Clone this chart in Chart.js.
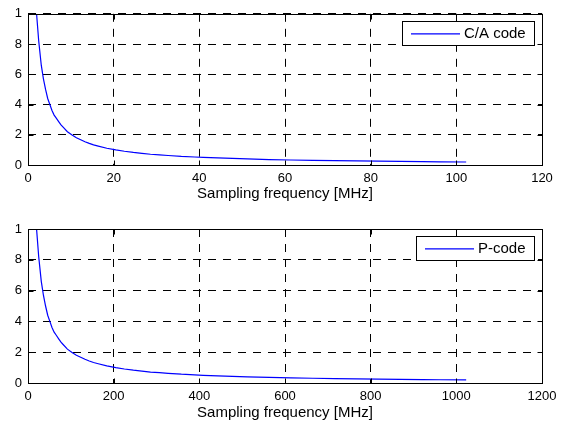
<!DOCTYPE html>
<html>
<head>
<meta charset="utf-8">
<script src="https://cdn.jsdelivr.net/npm/chart.js@4"></script>
<style>
  html, body { margin: 0; padding: 0; background: #fff; }
  .plot { position: absolute; left: 0; width: 565px; height: 212px; }
</style>
</head>
<body>
<div class="plot" style="top:0"><canvas id="caChart" width="565" height="212"></canvas></div>
<div class="plot" style="top:212px"><canvas id="pChart" width="565" height="212"></canvas></div>
<script>
// C/A code, sampling frequency in MHz vs value
const caFreq = [2.0, 2.5, 3.1, 3.6, 4.1, 4.6, 5.1, 5.6, 6.1, 6.6, 7.2, 7.7, 8.2, 9.2, 10.2, 11.3, 12.3, 13.3, 14.3, 15.3, 16.4, 18.4, 20.5, 22.5, 24.6, 26.6, 28.6, 30.7, 32.7, 35.8, 38.9, 40.9, 46.0, 51.2, 56.3, 61.4, 66.5, 71.6, 76.7, 81.8, 86.9, 92.1, 96.2, 102.3];
const caValue = [10.0, 8.2, 6.6, 5.7, 5.0, 4.4, 4.0, 3.6, 3.3, 3.1, 2.85, 2.65, 2.5, 2.2, 2.0, 1.8, 1.67, 1.54, 1.43, 1.33, 1.25, 1.11, 1.0, 0.91, 0.83, 0.77, 0.71, 0.67, 0.63, 0.57, 0.53, 0.5, 0.45, 0.4, 0.36, 0.33, 0.31, 0.29, 0.27, 0.25, 0.24, 0.22, 0.21, 0.2];

// P-code
const pFreq = [20, 25, 31, 36, 41, 46, 51, 56, 61, 66, 72, 77, 82, 92, 102, 113, 123, 133, 143, 153, 164, 184, 205, 225, 246, 266, 286, 307, 327, 358, 389, 409, 460, 512, 563, 614, 665, 716, 767, 818, 869, 921, 962, 1023];
const pValue = [10.0, 8.2, 6.6, 5.7, 5.0, 4.4, 4.0, 3.6, 3.3, 3.1, 2.85, 2.65, 2.5, 2.2, 2.0, 1.8, 1.67, 1.54, 1.43, 1.33, 1.25, 1.11, 1.0, 0.91, 0.83, 0.77, 0.71, 0.67, 0.63, 0.57, 0.53, 0.5, 0.45, 0.4, 0.36, 0.33, 0.31, 0.29, 0.27, 0.25, 0.24, 0.22, 0.21, 0.2];

const caTicks = [0, 20, 40, 60, 80, 100, 120];
const pTicks = [0, 200, 400, 600, 800, 1000, 1200];
const yTicks = [0, 2, 4, 6, 8, 10];
const yTickLabels = ['0', '2', '4', '6', '8', '1'];

const FONT = "'Liberation Sans', Arial, sans-serif";
const LINE_COLOR = '#0000ff';

// box around the plot, inward ticks and the boxed legend
const matlabFrame = {
  id: 'matlabFrame',
  afterDraw(chart) {
    const ctx = chart.ctx;
    const a = chart.chartArea;
    const L = Math.round(a.left) + 0.5, R = Math.round(a.right) + 0.5;
    const T = Math.round(a.top) + 0.5, B = Math.round(a.bottom) + 0.5;
    ctx.save();
    ctx.strokeStyle = '#000';
    ctx.lineWidth = 1;
    ctx.setLineDash([]);
    ctx.strokeRect(L, T, R - L, B - T);

    const tl = 5;
    ctx.beginPath();
    chart.scales.x.ticks.forEach(t => {
      const px = Math.round(chart.scales.x.getPixelForValue(t.value)) + 0.5;
      ctx.moveTo(px, B); ctx.lineTo(px, B - tl);
      ctx.moveTo(px, T); ctx.lineTo(px, T + tl);
    });
    chart.scales.y.ticks.forEach(t => {
      const py = Math.round(chart.scales.y.getPixelForValue(t.value)) + 0.5;
      ctx.moveTo(L, py); ctx.lineTo(L + tl, py);
      ctx.moveTo(R, py); ctx.lineTo(R - tl, py);
    });
    ctx.stroke();

    // legend
    const label = chart.data.datasets[0].label;
    ctx.font = '15px ' + FONT;
    const tw = ctx.measureText(label).width;
    const w = Math.round(9 + 49 + 4 + tw + 8), h = 24;
    const bx = Math.round(a.right - 8 - w), by = Math.round(a.top + 7);
    ctx.fillStyle = '#fff';
    ctx.fillRect(bx, by, w, h);
    ctx.strokeStyle = '#000';
    ctx.strokeRect(bx + 0.5, by + 0.5, w, h);
    ctx.strokeStyle = LINE_COLOR;
    ctx.lineWidth = 1.3;
    ctx.beginPath();
    ctx.moveTo(bx + 9, by + h / 2 + 0.8);
    ctx.lineTo(bx + 58, by + h / 2 + 0.8);
    ctx.stroke();
    ctx.fillStyle = '#000';
    ctx.textBaseline = 'middle';
    ctx.textAlign = 'left';
    ctx.fillText(label, bx + 62, by + h / 2 + 1);
    ctx.restore();
  }
};

function makePlot(id, xs, ys, label, xTicks, padTop, padBottom, xHeight) {
  const points = xs.map((x, i) => ({ x: x, y: ys[i] }));
  return new Chart(document.getElementById(id), {
    type: 'scatter',
    data: {
      datasets: [{
        label: label,
        data: points,
        showLine: true,
        borderColor: LINE_COLOR,
        borderWidth: 1.2,
        pointRadius: 0,
        tension: 0,
      }],
    },
    options: {
      responsive: false,
      animation: false,
      layout: { padding: { top: padTop, right: 23, bottom: padBottom, left: 0 } },
      plugins: { legend: { display: false }, tooltip: { enabled: false } },
      scales: {
        x: {
          type: 'linear',
          min: xTicks[0],
          max: xTicks[xTicks.length - 1],
          afterBuildTicks: s => { s.ticks = xTicks.map(v => ({ value: v })); },
          afterFit: s => { s.height = xHeight; },
          ticks: {
            color: '#000',
            padding: 6,
            font: { family: FONT, size: 13 },
            callback: v => String(v),
          },
          grid: { color: '#000', lineWidth: 1, drawTicks: false },
          border: { display: false, dash: [8, 7] },
          title: {
            display: true,
            text: 'Sampling frequency [MHz]',
            color: '#000',
            font: { family: FONT, size: 15 },
            padding: { top: 0, bottom: 0 },
          },
        },
        y: {
          min: 0,
          max: 10,
          afterBuildTicks: s => { s.ticks = yTicks.map(v => ({ value: v })); },
          afterFit: s => { s.width = 28; },
          ticks: {
            color: '#000',
            padding: 6,
            font: { family: FONT, size: 13 },
            callback: (v, i) => yTickLabels[i],
          },
          grid: { color: '#000', lineWidth: 1, drawTicks: false },
          border: { display: false, dash: [8, 7] },
        },
      },
    },
    plugins: [matlabFrame],
  });
}

makePlot('caChart', caFreq, caValue, 'C/A code', caTicks, 12, 9, 38);
makePlot('pChart', pFreq, pValue, 'P-code', pTicks, 17, 2, 39);
</script>
</body>
</html>
